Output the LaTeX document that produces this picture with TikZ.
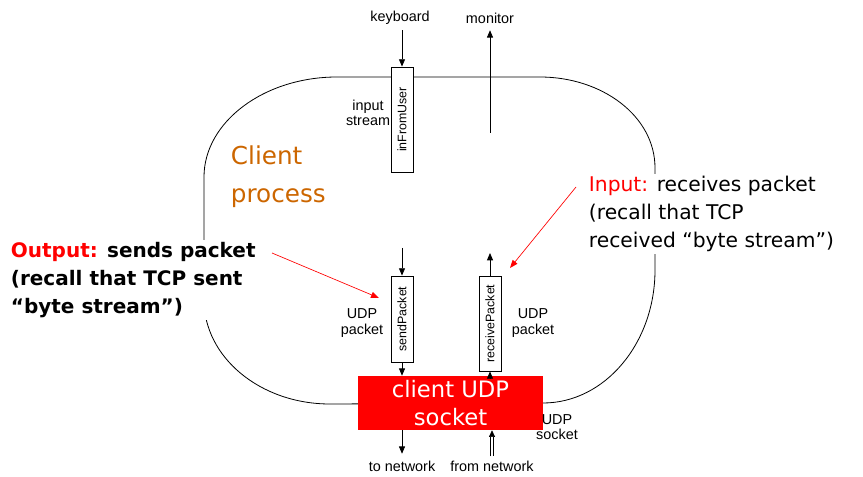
\documentclass[tikz,border=0pt]{standalone}
\usepackage{fontspec}
\setmainfont{Liberation Sans}
\newfontfamily\comic{DejaVu Sans}
\usetikzlibrary{arrows.meta}
\definecolor{procorange}{RGB}{204,102,0}
\definecolor{sockred}{RGB}{255,0,0}
\begin{document}
\begin{tikzpicture}[x=0.75pt,y=-0.75pt,
  lbl/.style={font=\fontsize{10.8}{11.5}\selectfont, align=center, inner sep=0pt},
  vbox/.style={draw, fill=white, rotate=90, minimum height=16.5pt, inner sep=1pt,
               font=\fontsize{9.3}{10}\selectfont, line width=0.6pt},
  arr/.style={-{Triangle[length=5.5pt,width=4.5pt]}, line width=0.6pt},
  callout/.style={draw=red, -{Triangle[length=6pt,width=4.5pt]}, line width=0.5pt, red},
  bigtxt/.style={anchor=west, align=left, inner sep=2pt, fill=white}
]
\useasboundingbox (0,0) rectangle (863,477);

% process loop
\draw[line width=0.6pt] (337,77) -- (540,77)
  .. controls (602,77) and (655,116) .. (655,168) -- (655,270)
  .. controls (655,343) and (605,403) .. (543,403) -- (330,404)
  .. controls (260,404) and (204,357) .. (204,300) -- (204,177)
  .. controls (204,122) and (264,77) .. (337,77) -- cycle;

% top labels
\node[lbl] (kb) at (400,18) {keyboard};
\node[lbl] (mon) at (490,18) {monitor};
\node[lbl] (instr) at (368,113) {input\\stream};

% inFromUser
\node[vbox, minimum width=78.75pt] (ifu) at (402,119.5) {inFromUser};
\draw[arr, shorten <=4pt] (ifu.east |- kb.south) -- (ifu.east);
\coordinate (monsrc) at (490,133);
\draw[arr, shorten >=5pt] (monsrc) -- (monsrc |- mon.south);

% client process
\node[bigtxt, fill=none, text=procorange, font=\comic\fontsize{18.5}{28.5}\selectfont] (cp) at (228,177) {Client\\process};

% packet boxes
\node[vbox, minimum width=64.5pt] (sp) at (402,319) {sendPacket};
\node[vbox, minimum width=71.25pt] (rp) at (490,323.5) {receivePacket};
\coordinate (spin) at (402,248);
\draw[arr] (spin) -- (sp.east);
\coordinate (rpout) at (490,253);
\draw[arr] (rp.east) -- (rpout);

\node[lbl] (udpl) at (362,323) {UDP\\packet};
\node[lbl] (udpr) at (533,323) {UDP\\packet};

% socket
\node[fill=sockred, minimum width=138.75pt, minimum height=40.5pt, inner sep=0pt,
      text=white, align=center, font=\comic\fontsize{17}{21}\selectfont] (sock) at (450.5,403) {client UDP\\socket};
\draw[arr] (sp.west) -- (sp.west |- sock.north);
\draw[arr] (rp.west |- sock.north) -- (rp.west);
\node[lbl] (udps) at (557,427) {UDP\\socket};

% network
\node[lbl] (tonet) at (402,466) {to network};
\node[lbl] (fromnet) at (492,466) {from network};
\draw[arr, shorten >=5pt] (sp.west |- sock.south) -- (tonet.north -| sp.west);
\draw[-{Triangle[length=5pt,width=4.5pt]}, double, double distance=1.4pt, line width=0.5pt, shorten <=3pt]
  (fromnet.north) -- (fromnet.north |- sock.south);

% callouts
\node[bigtxt, font=\comic\bfseries\fontsize{15}{21}\selectfont] (outtxt) at (8,280)
  {\textcolor{red}{Output:} sends packet\\(recall that TCP sent\\“byte stream”)};
\node[bigtxt, font=\comic\fontsize{15.2}{21}\selectfont] (intxt) at (586,214)
  {\textcolor{red}{Input:} receives packet\\(recall that TCP\\received “byte stream”)};
\coordinate (outfrom) at (272,253);
\coordinate (outto) at (379,298);
\draw[callout] (outfrom) -- (outto);
\coordinate (infrom) at (576,187);
\coordinate (into) at (510,268);
\draw[callout] (infrom) -- (into);
\end{tikzpicture}
\end{document}
